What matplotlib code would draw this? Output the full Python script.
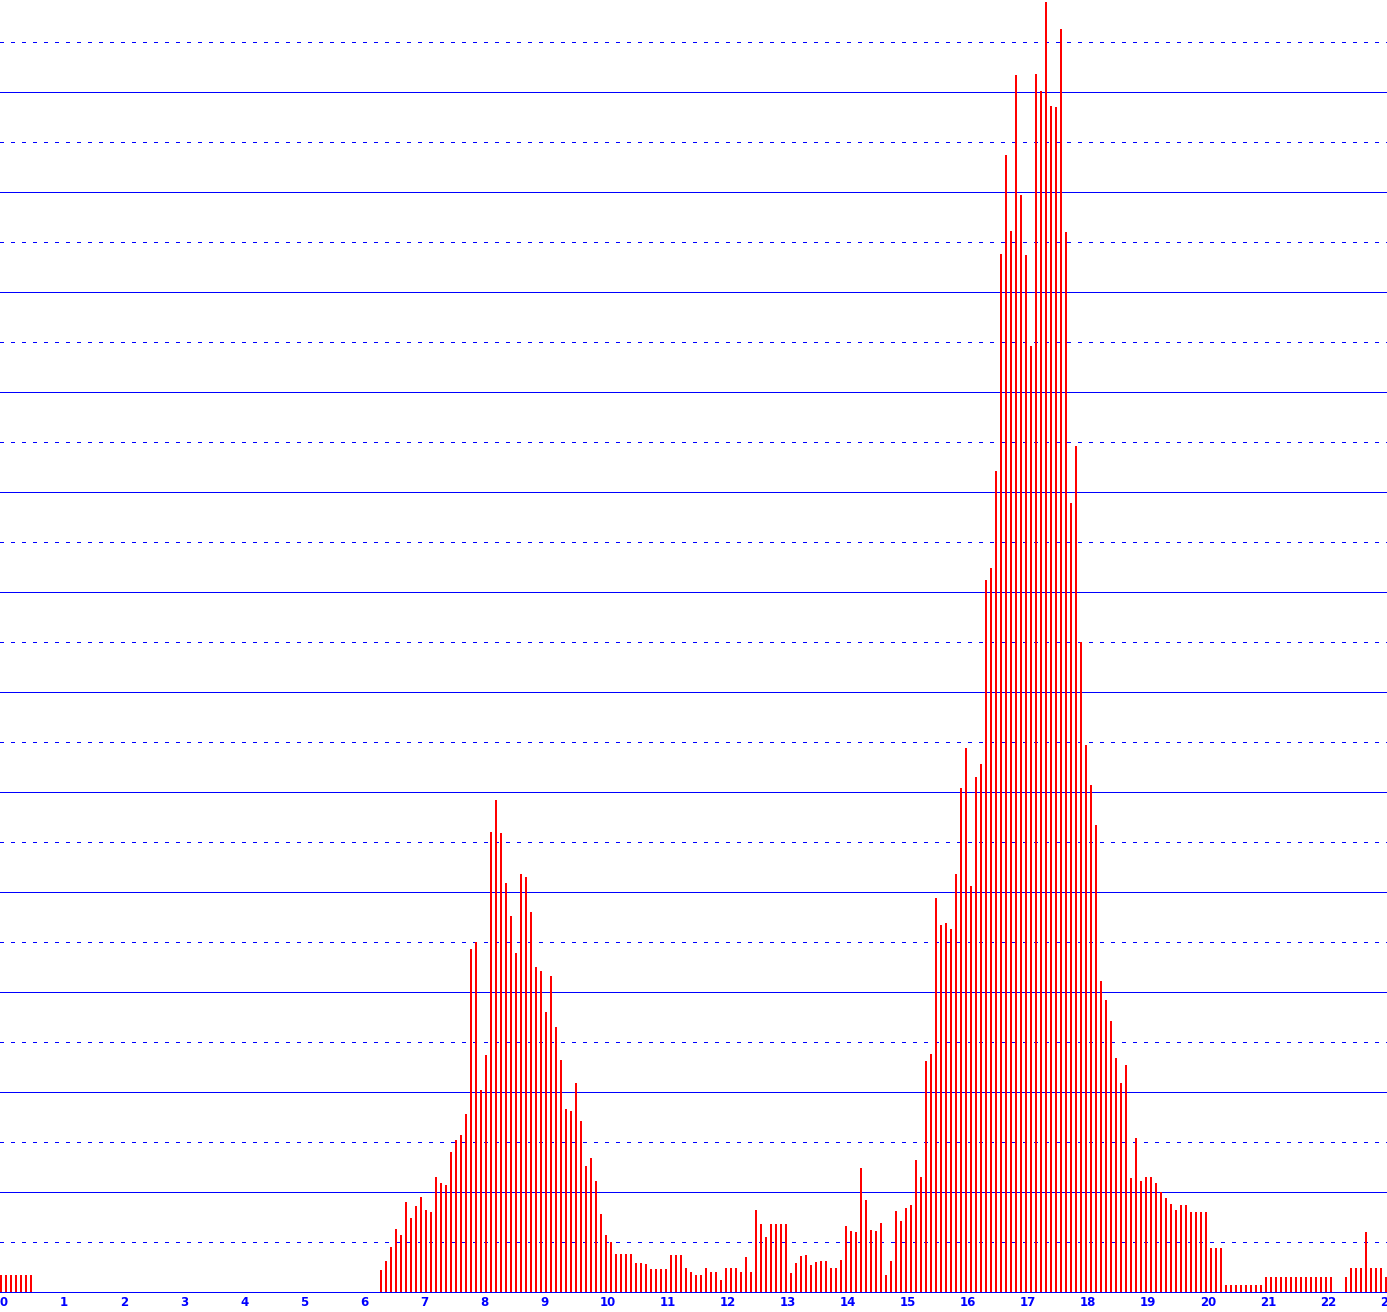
import matplotlib
matplotlib.use("Agg")
import matplotlib.pyplot as plt
import numpy as np

# 5-minute interval values (bar heights, pixel-unit scale of the original chart)
values = (
    [17, 17, 17, 17, 17, 17, 17] + [0] * 69 +
    # i = 76 .. 99
    [22, 31, 45, 63, 57, 90, 74, 86, 95, 82, 80, 115, 109, 107, 140, 152, 157, 178,
     343, 350, 202, 237, 460, 492] +
    # i = 100 .. 124
    [459, 409, 376, 339, 418, 415, 380, 325, 321, 280, 316, 265, 232, 183, 181, 209,
     171, 126, 134, 111, 78, 57, 50, 38, 38] +
    # i = 125 .. 151
    [38, 38, 29, 29, 28, 23, 23, 23, 23, 37, 37, 37, 24, 20, 17, 17, 24, 20, 20, 12,
     24, 24, 24, 20, 35, 20, 82] +
    # i = 152 .. 179
    [68, 55, 68, 68, 68, 68, 19, 29, 36, 37, 27, 30, 31, 31, 24, 24, 32, 66, 61, 60,
     124, 92, 62, 61, 69, 17, 31, 81] +
    # i = 180 .. 199
    [71, 84, 87, 132, 115, 231, 238, 394, 367, 369, 363, 418, 504, 544, 406, 515, 528,
     712, 724, 821] +
    # i = 200 .. 219
    [1038, 1137, 1061, 1217, 1097, 1037, 946, 1218, 1201, 1290, 1186, 1185, 1263,
     1060, 789, 846, 650, 547, 507, 467] +
    # i = 220 .. 245
    [311, 292, 271, 234, 209, 227, 114, 154, 111, 115, 115, 109, 100, 94, 88, 82, 87,
     87, 80, 80, 80, 80, 44, 44, 44, 7] +
    # i = 246 .. 277
    [7, 7, 7, 7, 7, 7, 7] + [15] * 14 + [0, 0, 15, 24, 24, 24, 60, 24, 24, 24, 15]
)
values = np.array(values, dtype=float)
times = np.arange(len(values)) / 12.0  # hours

hour_ticks = list(range(24))
hour_labels = [str(h) for h in hour_ticks]

solid_levels = list(range(100, 1201, 100))
dotted_levels = list(range(50, 1251, 100))

W, H = 1387, 1312
fig = plt.figure(figsize=(W / 100, H / 100), dpi=100)
fig.patch.set_facecolor("white")
ax = fig.add_axes([0, 19 / H, 1, 1293 / H])
ax.set_facecolor("white")
ax.set_xlim(0, W / 60.0)
ax.set_ylim(-1, 1292)

blue = "#0000FF"
for lv in solid_levels:
    ax.axhline(lv, color=blue, lw=0.72, antialiased=False, zorder=1)
for lv in dotted_levels:
    ax.axhline(lv, color=blue, lw=0.72, linestyle=(0, (3, 7)), antialiased=False, zorder=1)
ax.axhline(0, color=blue, lw=0.72, antialiased=False, zorder=3, clip_on=False)

ax.bar(times, values, width=2 / 60.0, align="edge", color="#FF0000",
       linewidth=0, antialiased=False, zorder=2)

for s in ax.spines.values():
    s.set_visible(False)
ax.set_yticks([])
ax.set_xticks(hour_ticks)
ax.set_xticklabels(hour_labels, color=blue, fontsize=8.5, ha="left",
                   family="DejaVu Sans", fontweight="semibold")
ax.tick_params(axis="x", length=0, pad=2)

fig.savefig("out.png", dpi=100, facecolor="white")
